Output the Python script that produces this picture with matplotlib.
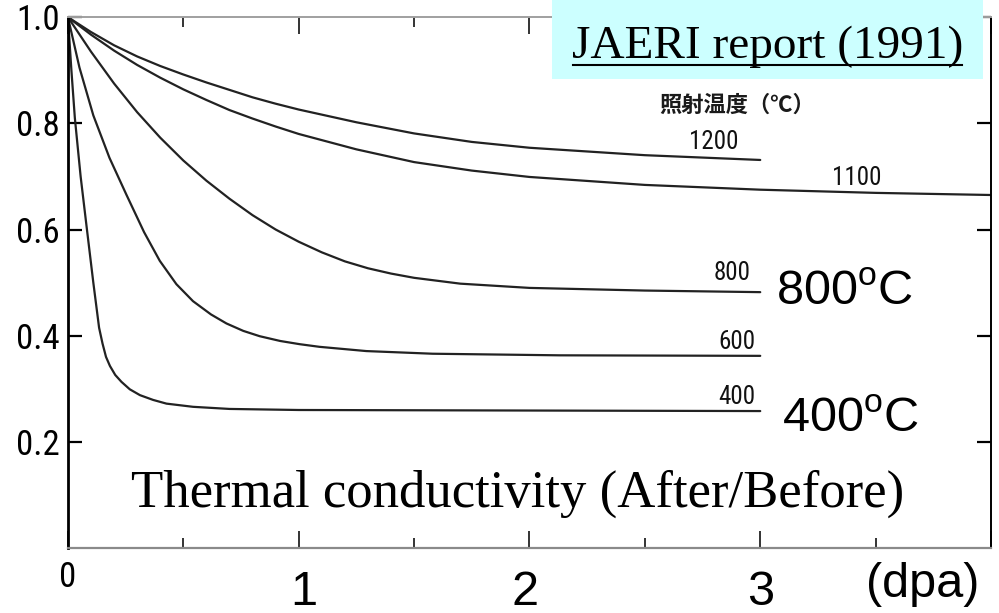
"""Thermal conductivity ratio vs irradiation dose (JAERI report, 1991)."""

import matplotlib

matplotlib.use("Agg")
import matplotlib.pyplot as plt
from matplotlib.lines import Line2D
from matplotlib.patches import Rectangle
from matplotlib.ticker import MultipleLocator

# dose (dpa) / conductivity ratio
DOSE_1200 = [0, 0.1, 0.2, 0.3, 0.4, 0.5, 0.6, 0.7, 0.8, 0.9, 1.0, 1.25, 1.5, 1.75, 2.0, 2.5, 3.0]
RATIO_1200 = [1.0, 0.972, 0.947, 0.926, 0.908, 0.892, 0.877, 0.863, 0.849, 0.837, 0.826,
              0.802, 0.781, 0.765, 0.754, 0.740, 0.731]

DOSE_1100 = [0, 0.1, 0.2, 0.3, 0.4, 0.5, 0.6, 0.7, 0.8, 0.9, 1.0, 1.25, 1.5, 1.75, 2.0,
             2.5, 3.0, 3.5, 4.0]
RATIO_1100 = [1.0, 0.967, 0.937, 0.910, 0.886, 0.864, 0.844, 0.825, 0.809, 0.794, 0.780,
              0.751, 0.727, 0.711, 0.699, 0.684, 0.675, 0.669, 0.665]

DOSE_800 = [0, 0.1, 0.2, 0.3, 0.4, 0.5, 0.6, 0.7, 0.8, 0.9, 1.0, 1.1, 1.2, 1.3, 1.4, 1.5,
            1.7, 2.0, 2.5, 3.0]
RATIO_800 = [1.0, 0.935, 0.875, 0.821, 0.773, 0.730, 0.692, 0.658, 0.627, 0.600, 0.577,
             0.557, 0.540, 0.527, 0.517, 0.509, 0.498, 0.490, 0.485, 0.482]

DOSE_600 = [0, 0.05, 0.11, 0.18, 0.254, 0.33, 0.398, 0.47, 0.542, 0.62, 0.687, 0.76,
            0.831, 0.92, 1.004, 1.09, 1.293, 1.58, 2.13, 3.0]
RATIO_600 = [1.0, 0.905, 0.815, 0.735, 0.665, 0.595, 0.541, 0.497, 0.465, 0.440, 0.423,
             0.409, 0.399, 0.390, 0.384, 0.379, 0.371, 0.366, 0.363, 0.362]

DOSE_400 = [0, 0.015, 0.03, 0.055, 0.081, 0.11, 0.135, 0.15, 0.165, 0.182, 0.205, 0.232,
            0.268, 0.312, 0.369, 0.427, 0.542, 0.7, 1.0, 2.0, 3.0]
RATIO_400 = [1.0, 0.90, 0.81, 0.70, 0.605, 0.50, 0.415, 0.385, 0.36, 0.343, 0.326, 0.313,
             0.299, 0.288, 0.279, 0.272, 0.266, 0.262, 0.26, 0.259, 0.258]

CURVES = [
    (DOSE_1200, RATIO_1200),
    (DOSE_1100, RATIO_1100),
    (DOSE_800, RATIO_800),
    (DOSE_600, RATIO_600),
    (DOSE_400, RATIO_400),
]

# small curve labels: (text, x, y)
CURVE_LABELS = [
    ("1200", 2.80, 0.765),
    ("1100", 3.42, 0.697),
    ("800", 2.88, 0.518),
    ("600", 2.90, 0.388),
    ("400", 2.90, 0.284),
]
BIG_LABELS = [("800", 3.07, 0.458), ("400", 3.095, 0.218)]
X_LABELS = [("1", 1.02), ("2", 1.98), ("3", 3.0)]

NARROW = ["Liberation Sans Narrow", "DejaVu Sans Condensed", "Roboto Condensed",
          "DejaVu Sans"]
SANS = ["Liberation Sans", "DejaVu Sans"]
SERIF = ["Liberation Serif", "DejaVu Serif"]

fig = plt.figure(figsize=(9.99, 6.13), dpi=100)
ax = fig.add_axes([0.068, 0.106, 0.924, 0.866])

for xs, ys in CURVES:
    ax.plot(xs, ys, color="#222222", lw=1.6, solid_capstyle="round",
            solid_joinstyle="round")

ax.set_xlim(0, 4)
ax.set_ylim(0, 1.0)

ax.xaxis.set_major_locator(MultipleLocator(1))
ax.xaxis.set_minor_locator(MultipleLocator(0.5))
ax.set_yticks([0.2, 0.4, 0.6, 0.8, 1.0])
ax.set_yticklabels(["0.2", "0.4", "0.6", "0.8", "1.0"], family=NARROW, fontsize=25,
                   fontstretch="condensed")
ax.tick_params(axis="x", which="both", direction="in", top=True, labelbottom=False)
ax.tick_params(axis="x", which="major", length=12, width=1.4, color="#333")
ax.tick_params(axis="x", which="minor", length=7, width=1.4, color="#333")
ax.tick_params(axis="y", which="major", direction="in", right=True, length=10,
               width=1.6, pad=6)

ax.spines["left"].set_linewidth(2.0)
ax.spines["right"].set_linewidth(1.4)
ax.spines["bottom"].set_color("#8a8a8a")
ax.spines["bottom"].set_linewidth(1.6)
ax.spines["top"].set_color("#a0a0a0")
ax.spines["top"].set_linewidth(1.4)

for txt, x, y in CURVE_LABELS:
    ax.text(x, y, txt, family=NARROW, fontstretch="condensed", fontsize=18,
            ha="center", va="center", color="#111111")
ax.text(2.90, 0.834, "照射温度（℃）", family=["Noto Sans CJK JP", "DejaVu Sans"],
        fontsize=16, fontweight="bold", ha="center", va="center", color="#1a1a1a")

for txt, x, y in BIG_LABELS:
    ax.text(x, y, txt + r"$^\mathregular{o}$C", family=SANS, fontsize=35,
            ha="left", va="baseline")

ax.text(1.948, 0.077, "Thermal conductivity (After/Before)", family=SERIF,
        fontsize=38, ha="center", va="baseline")

for txt, x in X_LABELS:
    ax.text(x, -0.107, txt, family=SANS, fontsize=35, ha="center",
            va="baseline", clip_on=False)
ax.text(0.0, -0.055, "0", family=NARROW, fontstretch="condensed", fontsize=25,
        ha="center", va="center", clip_on=False)
ax.text(3.46, -0.092, "(dpa)", family=SANS, fontsize=35, ha="left",
        va="baseline", clip_on=False)

# reference box in the top right corner
fig.patches.append(Rectangle((0.553, 0.871), 0.431, 0.129, transform=fig.transFigure,
                             facecolor="#ccffff", edgecolor="none", zorder=5))
fig.text(0.768, 0.905, "JAERI report (1991)", family=SERIF, fontsize=34,
         ha="center", va="baseline", zorder=6)
fig.lines.append(Line2D([0.574, 0.963], [0.894, 0.894], transform=fig.transFigure,
                        color="black", lw=1.5, zorder=6))

fig.savefig("out.png", dpi=100)
